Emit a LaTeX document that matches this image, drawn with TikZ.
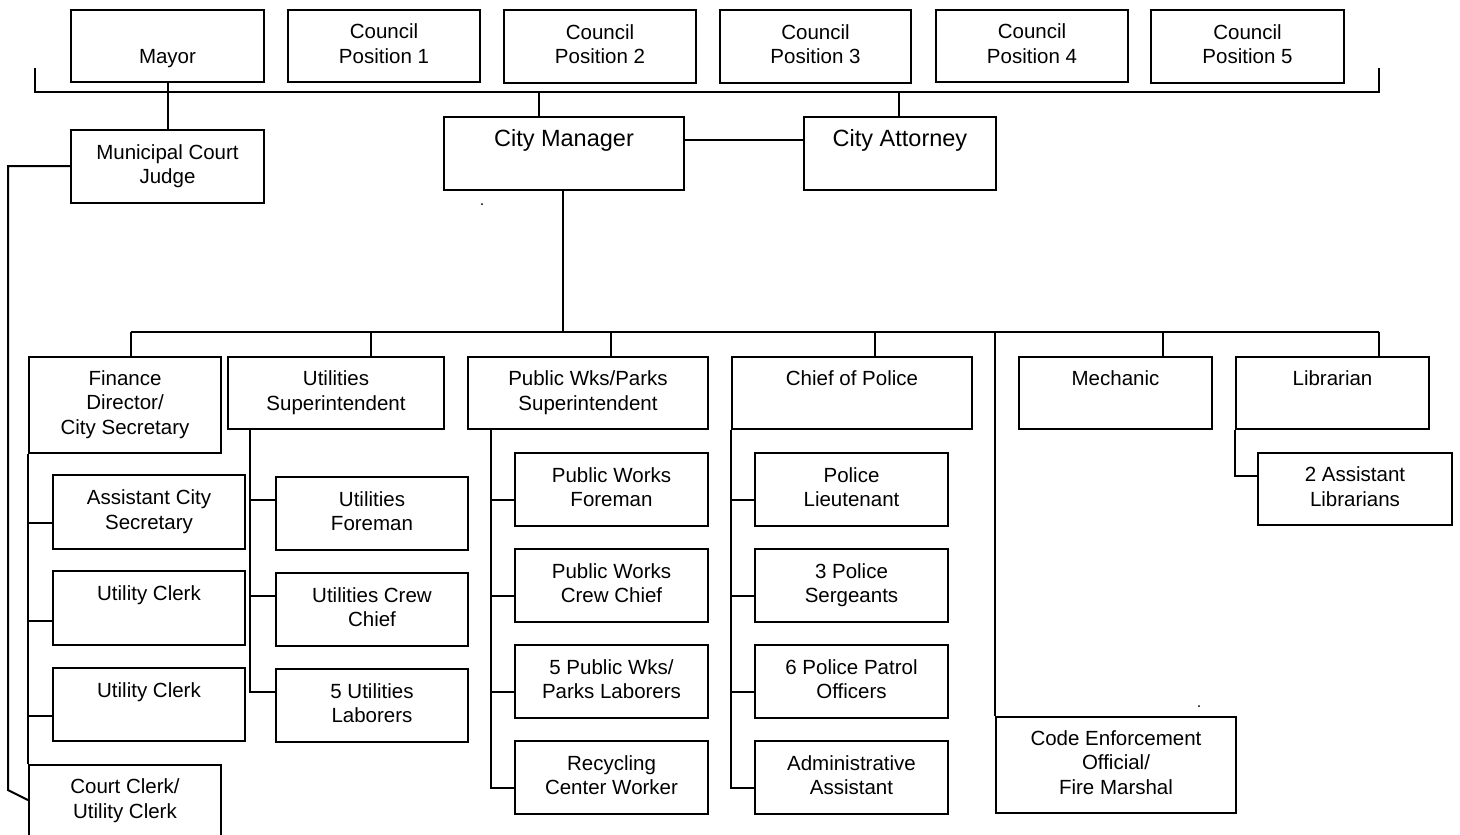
\documentclass[tikz,border=0pt]{standalone}
\usepackage{fontspec}
\setmainfont{Liberation Sans}
\begin{document}
\begin{tikzpicture}[x=1pt,y=-1pt,
  box/.style={draw,line width=2pt,align=center,inner sep=0pt,anchor=north west,
    font=\fontsize{20.5}{24.5}\selectfont},
  bigbox/.style={box,font=\fontsize{23.5}{25}\selectfont},
  ln/.style={line width=2pt},
  dot/.style={inner sep=0pt,anchor=base,font=\fontsize{16}{18}\selectfont}]
\useasboundingbox (0,0) rectangle (1460,835);
% top row
\node[box,minimum width=193pt,minimum height=72pt] (mayor) at (70,9) {\strut\\\strut Mayor};
\node[box,minimum width=192pt,minimum height=72pt] (cp1) at (287,9) {\strut Council\\\strut Position 1};
\node[box,minimum width=192pt,minimum height=73pt] (cp2) at (503,9) {\strut Council\\\strut Position 2};
\node[box,minimum width=191pt,minimum height=73pt] (cp3) at (719,9) {\strut Council\\\strut Position 3};
\node[box,minimum width=192pt,minimum height=72pt] (cp4) at (935,9) {\strut Council\\\strut Position 4};
\node[box,minimum width=193pt,minimum height=73pt] (cp5) at (1150,9) {\strut Council\\\strut Position 5};
% second row
\node[box,minimum width=193pt,minimum height=73pt] (judge) at (70,129) {\strut Municipal Court\\\strut Judge};
\node[bigbox,minimum width=240pt,minimum height=73pt] (cm) at (443,116) {\strut City Manager\\\strut};
\node[bigbox,minimum width=192pt,minimum height=73pt] (ca) at (803,116) {\strut City Attorney\\\strut};
% departments
\node[box,minimum width=192pt,minimum height=96pt] (fin) at (28,356) {\strut Finance\\Director/\\\strut City Secretary};
\node[box,minimum width=216pt,minimum height=72pt] (usup) at (227,356) {\strut Utilities\\\strut Superintendent};
\node[box,minimum width=240pt,minimum height=72pt] (pw) at (467,356) {\strut Public Wks/Parks\\\strut Superintendent};
\node[box,minimum width=240pt,minimum height=72pt] (chief) at (731,356) {\strut Chief of Police\\\strut};
\node[box,minimum width=193pt,minimum height=72pt] (mech) at (1018,356) {\strut Mechanic\\\strut};
\node[box,minimum width=193pt,minimum height=72pt] (lib) at (1235,356) {\strut Librarian\\\strut};
% finance staff
\node[box,minimum width=192pt,minimum height=74pt] (acs) at (52,474) {\strut Assistant City\\\strut Secretary};
\node[box,minimum width=192pt,minimum height=74pt] (uc1) at (52,570) {\strut Utility Clerk\\\strut};
\node[box,minimum width=192pt,minimum height=73pt] (uc2) at (52,667) {\strut Utility Clerk\\\strut};
\node[box,minimum width=192pt,minimum height=72pt] (clerk) at (28,764) {\strut Court Clerk/\\\strut Utility Clerk};
% utilities staff
\node[box,minimum width=192pt,minimum height=73pt] (uf) at (275,476) {\strut Utilities\\\strut Foreman};
\node[box,minimum width=192pt,minimum height=73pt] (ucc) at (275,572) {\strut Utilities Crew\\\strut Chief};
\node[box,minimum width=192pt,minimum height=73pt] (ul) at (275,668) {\strut 5 Utilities\\\strut Laborers};
% public works staff
\node[box,minimum width=193pt,minimum height=73pt] (pwf) at (514,452) {\strut Public Works\\\strut Foreman};
\node[box,minimum width=193pt,minimum height=73pt] (pwc) at (514,548) {\strut Public Works\\\strut Crew Chief};
\node[box,minimum width=193pt,minimum height=73pt] (pwl) at (514,644) {\strut 5 Public Wks/\\\strut Parks Laborers};
\node[box,minimum width=193pt,minimum height=73pt] (rcw) at (514,740) {\strut Recycling\\\strut Center Worker};
% police staff
\node[box,minimum width=193pt,minimum height=73pt] (pl) at (754,452) {\strut Police\\\strut Lieutenant};
\node[box,minimum width=193pt,minimum height=73pt] (ps) at (754,548) {\strut 3 Police\\\strut Sergeants};
\node[box,minimum width=193pt,minimum height=73pt] (pp) at (754,644) {\strut 6 Police Patrol\\\strut Officers};
\node[box,minimum width=193pt,minimum height=73pt] (aa) at (754,740) {\strut Administrative\\\strut Assistant};
% others
\node[box,minimum width=240pt,minimum height=96pt] (code) at (995,716) {\strut Code Enforcement\\Official/\\\strut Fire Marshal};
\node[box,minimum width=194pt,minimum height=72pt] (al) at (1257,452) {\strut 2 Assistant\\\strut Librarians};
% stray dots
\node[dot] (d1) at (482,205) {.};
\node[dot] (d2) at (1199,707) {.};
% top bus
\coordinate (tl) at (35,68);
\coordinate (tr) at (1379,68);
\coordinate (bl) at (35,92);
\coordinate (br) at (1379,92);
\draw[ln] (tl) -- (bl) -- (br) -- (tr);
\draw[ln] (mayor.south) -- (judge.north);
\coordinate (cmt) at (539,92);
\coordinate (cat) at (899,92);
\draw[ln] (cmt) -- (cmt |- cm.north);
\draw[ln] (cat) -- (cat |- ca.north);
\coordinate (cmr) at (683,140);
\draw[ln] (cmr) -- (cmr -| ca.west);
% judge to court clerk
\coordinate (j1) at (8,166);
\coordinate (j2) at (8,790);
\coordinate (j3) at (28,800);
\draw[ln] (j1 -| judge.west) -- (j1) -- (j2) -- (j3);
% city manager to department bus
\coordinate (cmb) at (563,189);
\coordinate (dbus) at (563,332);
\draw[ln] (cmb) -- (dbus);
\coordinate (dl) at (131,332);
\coordinate (dr) at (1379,332);
\draw[ln] (dl) -- (dr);
\draw[ln] (dl) -- (dl |- fin.north);
\coordinate (d2x) at (371,332);
\draw[ln] (d2x) -- (d2x |- usup.north);
\coordinate (d3x) at (611,332);
\draw[ln] (d3x) -- (d3x |- pw.north);
\coordinate (d4x) at (875,332);
\draw[ln] (d4x) -- (d4x |- chief.north);
\coordinate (d5x) at (995,332);
\draw[ln] (d5x) -- (d5x |- code.north);
\coordinate (d6x) at (1163,332);
\draw[ln] (d6x) -- (d6x |- mech.north);
\draw[ln] (dr) -- (dr |- lib.north);
% finance subtree
\draw[ln] (fin.south west) -- (clerk.north west);
\coordinate (f1) at (28,523);
\coordinate (f2) at (28,621);
\coordinate (f3) at (28,716);
\draw[ln] (f1) -- (f1 -| acs.west);
\draw[ln] (f2) -- (f2 -| uc1.west);
\draw[ln] (f3) -- (f3 -| uc2.west);
% utilities subtree
\coordinate (u0) at (250,428);
\coordinate (u1) at (250,500);
\coordinate (u2) at (250,596);
\coordinate (u3) at (250,692);
\draw[ln] (u0) -- (u3) -- (u3 -| ul.west);
\draw[ln] (u1) -- (u1 -| uf.west);
\draw[ln] (u2) -- (u2 -| ucc.west);
% public works subtree
\coordinate (p0) at (491,428);
\coordinate (p1) at (491,500);
\coordinate (p2) at (491,596);
\coordinate (p3) at (491,692);
\coordinate (p4) at (491,788);
\draw[ln] (p0) -- (p4) -- (p4 -| rcw.west);
\draw[ln] (p1) -- (p1 -| pwf.west);
\draw[ln] (p2) -- (p2 -| pwc.west);
\draw[ln] (p3) -- (p3 -| pwl.west);
% police subtree
\coordinate (q1) at (731,500);
\coordinate (q2) at (731,596);
\coordinate (q3) at (731,692);
\coordinate (q4) at (731,788);
\draw[ln] (chief.south west) -- (q4) -- (q4 -| aa.west);
\draw[ln] (q1) -- (q1 -| pl.west);
\draw[ln] (q2) -- (q2 -| ps.west);
\draw[ln] (q3) -- (q3 -| pp.west);
% library subtree
\coordinate (l1) at (1235,476);
\draw[ln] (lib.south west) -- (l1) -- (l1 -| al.west);
\end{tikzpicture}
\end{document}
